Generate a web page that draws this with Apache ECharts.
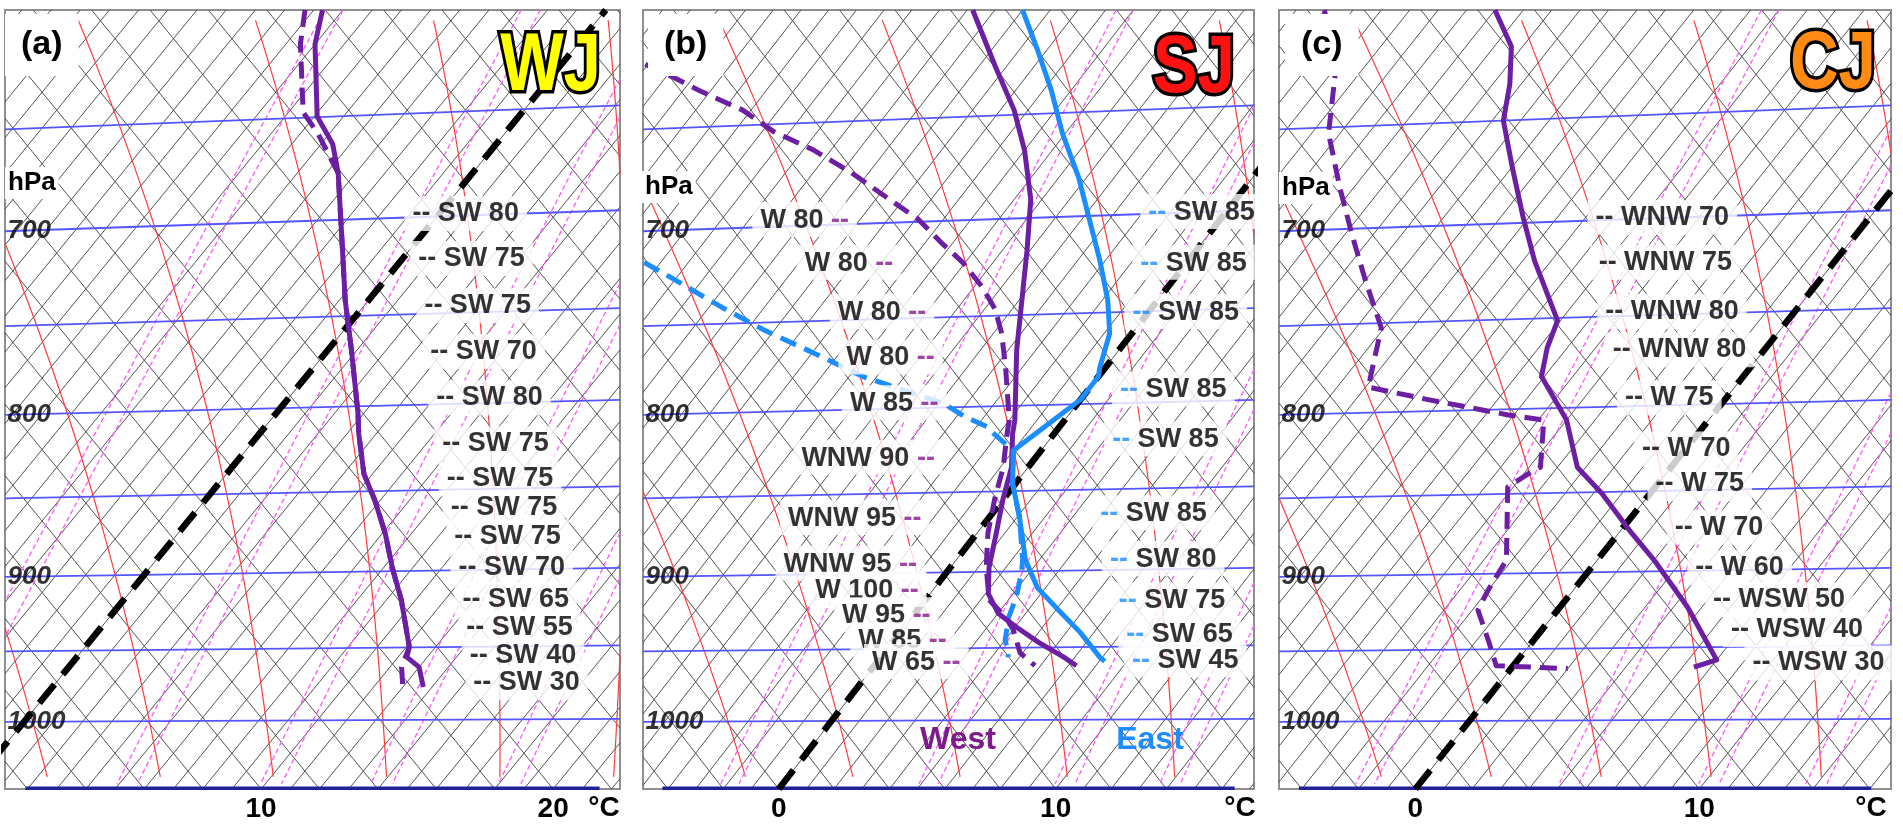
<!DOCTYPE html>
<html>
<head>
<meta charset="utf-8">
<script src="https://cdn.jsdelivr.net/npm/echarts@6/dist/echarts.min.js"></script>
<style>
html,body{margin:0;padding:0;background:#fff}
#chart{width:1903px;height:824px}
</style>
</head>
<body>
<div id="chart"></div>
<script>
// ---- values read off the three soundings (T in degC, p in hPa) ----
// (a) WJ
var wjTempP = [596,611,644,657,671,701,736,763,799,811,835,851,872,894,915,947,954,961,975];
var wjTemp  = [-9.7,-9.0,-6.9,-5.6,-4.6,-2.8,-0.8,0.8,2.8,3.4,4.7,5.8,7.1,8.3,9.5,11.1,11.3,12.0,12.7];
var wjDewP  = [596,611,642,652,671,701,736,763,799,811,835,851,872,894,915,947,961,975];
var wjDew   = [-10.3,-9.5,-7.5,-6.4,-4.6,-2.8,-0.8,0.8,2.8,3.4,4.7,5.8,7.1,8.3,9.5,11.1,11.4,12.0];
var wjWindP = [691,714,739,764,790,817,838,856,874,894,915,934,953,972];
var wjWind  = ['SW 80','SW 75','SW 75','SW 70','SW 80','SW 75','SW 75','SW 75','SW 75','SW 70','SW 65','SW 55','SW 40','SW 30'];

// (b) SJ, west and east side
var sjWestTempP = [596,621,641,660,684,710,736,763,803,811,831,851,872,894,911,924,933,944,954,960];
var sjWestTemp  = [-14.8,-12.4,-10.5,-9.0,-7.4,-6.1,-4.9,-3.7,-1.8,-1.5,-0.6,0.0,0.7,1.4,2.1,3.0,4.0,5.3,6.6,7.3];
var sjWestDewP  = [620,626,632,641,651,660,671,684,694,706,716,729,741,754,773,803,811,831,851,872,894,915,927,935,951,960];
var sjWestDew   = [-25.1,-23.7,-22.4,-20.3,-18.6,-16.6,-14.6,-12.5,-10.9,-9.4,-8.1,-6.7,-5.6,-4.7,-3.6,-2.0,-1.7,-0.9,-0.3,0.4,1.3,2.3,3.4,4.0,4.9,5.8];
var sjEastTempP = [596,614,632,652,673,693,715,736,754,773,778,791,803,821,841,862,889,907,922,937,954,957];
var sjEastTemp  = [-13.0,-11.3,-9.7,-8.1,-6.3,-4.8,-3.2,-1.8,-0.8,-0.2,0.0,0.0,-0.4,-1.0,-0.1,1.1,2.5,3.7,5.1,6.5,7.9,8.2];
var sjEastDewP  = [716,724,740,752,765,778,786,793,801,807,810,821,841,862,889,897,913,927,942,954];
var sjEastDew   = [-19.6,-18.2,-15.5,-13.4,-10.9,-8.5,-6.6,-4.9,-3.7,-2.6,-2.3,-1.0,-0.1,1.1,2.4,2.7,3.2,3.5,4.0,4.6];
var sjWestWindP = [694,716,742,767,793,825,862,891,908,925,942,957];
var sjWestWind  = ['W 80','W 80','W 80','W 80','W 85','WNW 90','WNW 95','WNW 95','W 100','W 95','W 85','W 65'];
var sjEastWindP = [690,716,742,785,814,859,888,915,938,956];
var sjEastWind  = ['SW 85','SW 85','SW 85','SW 85','SW 85','SW 85','SW 80','SW 75','SW 65','SW 45'];

// (c) CJ
var cjTempP = [596,612,629,646,668,693,715,747,762,778,791,803,831,847,870,889,920,956,961];
var cjTemp  = [-19.0,-17.4,-16.4,-15.6,-14.0,-12.2,-10.6,-8.1,-7.7,-7.1,-6.0,-5.0,-3.3,-1.7,0.3,2.0,4.5,7.0,6.4];
var cjDewP  = [596,625,652,678,701,724,751,773,784,791,800,803,831,834,843,889,909,922,944,960,962];
var cjDew   = [-25.0,-22.8,-21.4,-19.5,-17.8,-16.1,-14.1,-13.3,-12.9,-10.5,-7.2,-5.8,-4.6,-4.8,-5.2,-3.2,-3.0,-2.8,-1.5,-0.6,2.0];
var cjWindP = [693,716,742,763,790,820,841,868,894,915,935,958];
var cjWind  = ['WNW 70','WNW 75','WNW 80','WNW 80','W 75','W 70','W 75','W 70','W 60','WSW 50','WSW 40','WSW 30'];

// diagram background
var pressLabels = [700, 800, 900, 1000];
var isobars = [650, 700, 750, 800, 850, 900, 950, 1000];
var moistStart = [-15.7,-11.7,-7.7,-3.7,0.3,4.3,8.3,12.3,16.3,20.3,24.3,28.3];   // degC at 1000 hPa
var mixRatios = [3.1, 5.2, 7.3, 9.4, 12.5, 16.5];                               // g/kg
var tickA = [10, 20];
var tickBC = [0, 10];

var FONT = '"Liberation Sans", Arial, sans-serif';
var PURPLE = '#6c1fa3', BLUE = '#1c8dff';
var S = 38.5, P0 = 1050, PTOP = 596;
var UMAX = Math.log(P0 / PTOP);

function uOf(p) { return Math.log(P0 / p); }
function skew(t, p) { return t + S * uOf(p); }
function toXY(ts, ps) { return ts.map(function (t, i) { return [skew(t, ps[i]), ps[i]]; }); }

// clip a polyline (in skewed X / log p space) to the panel box
function clipRuns(pts, xl, xr) {
    var runs = [], cur = null;
    for (var i = 1; i < pts.length; i++) {
        var x0 = pts[i-1][0], u0 = uOf(pts[i-1][1]), x1 = pts[i][0], u1 = uOf(pts[i][1]);
        var dx = x1 - x0, du = u1 - u0;
        var pp = [-dx, dx, -du, du], qq = [x0 - xl, xr - x0, u0, UMAX - u0];
        var t0 = 0, t1 = 1, ok = true;
        for (var k = 0; k < 4; k++) {
            if (pp[k] === 0) { if (qq[k] < -1e-9) { ok = false; break; } }
            else {
                var r = qq[k] / pp[k];
                if (pp[k] < 0) { if (r > t1) { ok = false; break; } if (r > t0) t0 = r; }
                else { if (r < t0) { ok = false; break; } if (r < t1) t1 = r; }
            }
        }
        if (!ok) { cur = null; continue; }
        var a = [x0 + t0*dx, P0*Math.exp(-(u0 + t0*du))];
        var b = [x0 + t1*dx, P0*Math.exp(-(u0 + t1*du))];
        if (!cur || t0 > 0) { cur = [a]; runs.push(cur); }
        cur.push(b);
        if (t1 < 1) cur = null;
    }
    return runs;
}

// saturated adiabat through t1000
function moist(t1000) {
    var Rd = 287.04, cp = 1005.7, Lv = 2.501e6, eps = 0.622;
    function rate(T, p) {
        var tc = T - 273.15, es = 6.112*Math.exp(17.67*tc/(tc + 243.5)), rs = eps*es/(p - es);
        return (Rd*T + Lv*rs) / (cp + Lv*Lv*rs*eps/(Rd*T*T));
    }
    var h = 0.01, up = [], dn = [];
    var T = t1000 + 273.15, lp = Math.log(1000);
    while (Math.exp(lp) > 605) {
        var k1 = rate(T, Math.exp(lp)), k2 = rate(T - h*k1/2, Math.exp(lp - h/2));
        T -= h*k2; lp -= h; up.push([T - 273.15, Math.exp(lp)]);
    }
    T = t1000 + 273.15; lp = Math.log(1000);
    while (Math.exp(lp) < 1040) {
        var m1 = rate(T, Math.exp(lp)), m2 = rate(T + h*m1/2, Math.exp(lp + h/2));
        T += h*m2; lp += h; dn.push([T - 273.15, Math.exp(lp)]);
    }
    return up.reverse().concat([[t1000, 1000]], dn).map(function (d) { return [skew(d[0], d[1]), d[1]]; });
}

function mixLine(w) {
    var out = [];
    for (var p = PTOP; p <= P0; p += 6) {
        var e = w*p/(622 + w), l = Math.log(e/6.112);
        out.push([skew(243.5*l/(17.67 - l), p), p]);
    }
    return out;
}

function xAt(ts, ps, p) {
    if (p <= ps[0]) return skew(ts[0], p);
    for (var i = 1; i < ps.length; i++) {
        if (p <= ps[i]) {
            var f = (p - ps[i-1])/(ps[i] - ps[i-1]);
            return skew(ts[i-1] + f*(ts[i] - ts[i-1]), p);
        }
    }
    return skew(ts[ts.length-1], p);
}

var panels = [
    {xl: 1.23, xr: 22.29, left: 5, width: 615, ticks: tickA},
    {xl: -4.9, xr: 17.16, left: 643, width: 611, ticks: tickBC},
    {xl: -4.8, xr: 16.75, left: 1279, width: 612, ticks: tickBC}
];

var grids = [], xAxes = [], yAxes = [], series = [];

function linesSeries(i, runs, style, z) {
    style.opacity = style.opacity || 1;
    return {
        type: 'lines', coordinateSystem: 'cartesian2d', xAxisIndex: i, yAxisIndex: i,
        polyline: true, silent: true, z: z, clip: true,
        lineStyle: style,
        data: runs.map(function (r) { return {coords: r}; })
    };
}

function curve(i, ts, ps, color, dashed, z) {
    return {
        type: 'line', xAxisIndex: i, yAxisIndex: i, data: toXY(ts, ps),
        showSymbol: false, symbol: 'none', silent: true, z: z, clip: true,
        lineStyle: {color: color, width: 5, type: dashed ? [17, 9] : 'solid', cap: 'butt', join: 'round'}
    };
}

var windLabel = {
    show: true, distance: 0, backgroundColor: '#fff', padding: [5, 8, 3, 8],
    color: '#000', fontSize: 27, fontWeight: 'bold', fontFamily: FONT
};
var hidden = {color: 'rgba(0,0,0,0)'};

panels.forEach(function (b, i) {
    grids.push({left: b.left, top: 10, width: b.width, height: 779, show: true,
        backgroundColor: '#fff', borderColor: '#8f8f8f', borderWidth: 2});
    xAxes.push({type: 'value', gridIndex: i, min: b.xl, max: b.xr,
        axisLine: {show: false}, axisTick: {show: false}, splitLine: {show: false},
        axisLabel: {customValues: b.ticks, color: '#000', fontSize: 28, fontWeight: 'bold', fontFamily: FONT, margin: 6}});
    yAxes.push({type: 'log', gridIndex: i, min: PTOP, max: P0, inverse: true, show: false});

    // cross hatch: isotherms every degree, the other way every two degrees
    var hatch = [];
    for (var t = Math.floor(b.xl - S*UMAX); t <= b.xr; t += 1)
        hatch = hatch.concat(clipRuns([[t, P0], [t + S*UMAX, PTOP]], b.xl, b.xr));
    for (var t2 = Math.floor(b.xl/2)*2; t2 <= b.xr + S*UMAX; t2 += 2)
        hatch = hatch.concat(clipRuns([[t2, P0], [t2 - S*UMAX, PTOP]], b.xl, b.xr));
    series.push(linesSeries(i, hatch, {color: '#404040', width: 1, opacity: 0.9}, 1));

    // saturated adiabats
    var reds = [];
    moistStart.forEach(function (t) { reds = reds.concat(clipRuns(moist(t), b.xl, b.xr)); });
    series.push(linesSeries(i, reds, {color: '#ff3b3b', width: 1.2}, 2));

    // mixing ratio pairs
    var pinks = [];
    mixRatios.forEach(function (w) {
        pinks = pinks.concat(clipRuns(mixLine(w), b.xl, b.xr), clipRuns(mixLine(w*1.05), b.xl, b.xr));
    });
    series.push(linesSeries(i, pinks, {color: '#ff55ff', width: 1.3, type: [5, 3]}, 2));

    // isobars
    var iso = isobars.map(function (p) {
        return [[b.xl, p], [b.xr, p*Math.exp(-(P0 - p)*0.06/1376)]];
    });
    series.push(linesSeries(i, iso, {color: '#5555ff', width: 1.8}, 3));
    series.push(linesSeries(i, [[[b.xl + 0.7, P0 - 0.5], [b.xr - 0.7, P0 - 0.5]]], {color: '#20209a', width: 3.5}, 3));

    // 0 degC isotherm
    series.push({type: 'line', xAxisIndex: i, yAxisIndex: i, data: toXY([0, 0], [P0, PTOP]),
        showSymbol: false, symbol: 'none', silent: true, z: 4, clip: true,
        lineStyle: {color: '#000', width: 6.5, type: [24, 13], cap: 'butt'}});

    // pressure labels
    series.push({type: 'scatter', xAxisIndex: i, yAxisIndex: i, symbolSize: 1, itemStyle: hidden,
        silent: true, z: 15,
        data: pressLabels.map(function (p) { return [b.xl, p]; }),
        label: {show: true, position: 'right', distance: 2, formatter: function (prm) { return String(prm.value[1]); },
            color: '#000', fontSize: 26, fontWeight: 'bold', fontStyle: 'italic', fontFamily: FONT}});
});

// soundings
series.push(curve(0, wjDew, wjDewP, PURPLE, true, 6));
series.push(curve(0, wjTemp, wjTempP, PURPLE, false, 7));
series.push(curve(1, sjWestDew, sjWestDewP, PURPLE, true, 6));
series.push(curve(1, sjEastDew, sjEastDewP, BLUE, true, 6));
series.push(curve(1, sjWestTemp, sjWestTempP, PURPLE, false, 7));
series.push(curve(1, sjEastTemp, sjEastTempP, BLUE, false, 7));
series.push(curve(2, cjDew, cjDewP, PURPLE, true, 6));
series.push(curve(2, cjTemp, cjTempP, PURPLE, false, 7));

// wind labels
series.push({type: 'scatter', xAxisIndex: 0, yAxisIndex: 0, symbolSize: 1, itemStyle: hidden, silent: true, z: 20,
    data: wjWindP.map(function (p) { return [17.45 - 6.12*uOf(p), p]; }),
    label: Object.assign({}, windLabel, {position: 'right', formatter: function (prm) { return '-- ' + wjWind[prm.dataIndex]; }})});

series.push({type: 'scatter', xAxisIndex: 1, yAxisIndex: 1, symbolSize: 1, itemStyle: hidden, silent: true, z: 20,
    data: sjWestWindP.map(function (p) {
        return [Math.min(xAt(sjWestTemp, sjWestTempP, p), xAt(sjWestDew, sjWestDewP, p)) - 2.2, p];
    }),
    label: Object.assign({}, windLabel, {position: 'left',
        formatter: function (prm) { return sjWestWind[prm.dataIndex] + ' {d|--}'; },
        rich: {d: {color: '#86198f', fontSize: 27, fontWeight: 'bold', fontFamily: FONT}}})});

series.push({type: 'scatter', xAxisIndex: 1, yAxisIndex: 1, symbolSize: 1, itemStyle: hidden, silent: true, z: 20,
    data: sjEastWindP.map(function (p) {
        var u = uOf(p);
        return [11.3 + (u > 0.2 ? 7.9*(u - 0.2) : 10.8*(0.2 - u)), p];
    }),
    label: Object.assign({}, windLabel, {position: 'right',
        formatter: function (prm) { return '{d|--} ' + sjEastWind[prm.dataIndex]; },
        rich: {d: {color: BLUE, fontSize: 27, fontWeight: 'bold', fontFamily: FONT}}})});

series.push({type: 'scatter', xAxisIndex: 2, yAxisIndex: 2, symbolSize: 1, itemStyle: hidden, silent: true, z: 20,
    data: cjWindP.map(function (p) { var u = uOf(p); return [14.95 - 41.14*u + 47.46*u*u, p]; }),
    label: Object.assign({}, windLabel, {position: 'right', formatter: function (prm) { return '-- ' + cjWind[prm.dataIndex]; }})});

function txt(text, x, y, o) {
    var st = {text: text, font: o.font, fill: o.fill || '#000',
        textAlign: o.align || 'left', textVerticalAlign: 'middle', align: o.align || 'left', verticalAlign: 'middle'};
    if (o.bg) { st.backgroundColor = o.bg; st.padding = o.pad; }
    if (o.stroke) { st.stroke = o.stroke; st.lineWidth = o.lw; st.strokeFirst = true; }
    return {type: 'text', x: x, y: y, z: 100, zlevel: 0, scaleX: o.sx || 1, style: st};
}

var graphics = [
    txt('(a)', 5, 45, {font: 'bold 34px ' + FONT, bg: '#fff', pad: [14, 16]}),
    txt('(b)', 648, 45, {font: 'bold 34px ' + FONT, bg: '#fff', pad: [14, 16]}),
    txt('(c)', 1285, 45, {font: 'bold 34px ' + FONT, bg: '#fff', pad: [14, 16]}),
    txt('WJ', 601, 67, {font: 'bold 82px ' + FONT, fill: '#ffff00', stroke: '#000', lw: 7, align: 'right', sx: 0.82}),
    txt('SJ', 1235, 69, {font: 'bold 82px ' + FONT, fill: '#ff1111', stroke: '#000', lw: 7, align: 'right', sx: 0.82}),
    txt('CJ', 1876, 65, {font: 'bold 82px ' + FONT, fill: '#ff8a14', stroke: '#000', lw: 7, align: 'right', sx: 0.82}),
    txt('hPa', 5, 183, {font: 'bold 26px ' + FONT, bg: '#fff', pad: [3, 3]}),
    txt('hPa', 642, 187, {font: 'bold 26px ' + FONT, bg: '#fff', pad: [3, 3]}),
    txt('hPa', 1279, 188, {font: 'bold 26px ' + FONT, bg: '#fff', pad: [3, 3]}),
    txt('°C', 604, 808, {font: 'bold 28px ' + FONT, align: 'center'}),
    txt('°C', 1240, 808, {font: 'bold 28px ' + FONT, align: 'center'}),
    txt('°C', 1871, 808, {font: 'bold 28px ' + FONT, align: 'center'}),
    txt('West', 958, 740, {font: 'bold 32px ' + FONT, fill: '#7d1a8c', align: 'center'}),
    txt('East', 1150, 740, {font: 'bold 32px ' + FONT, fill: BLUE, align: 'center'})
];

var chart = echarts.init(document.getElementById('chart'));
chart.setOption({
    animation: false,
    backgroundColor: '#fff',
    textStyle: {fontFamily: FONT},
    grid: grids,
    xAxis: xAxes,
    yAxis: yAxes,
    series: series,
    graphic: graphics
});
</script>
</body>
</html>
